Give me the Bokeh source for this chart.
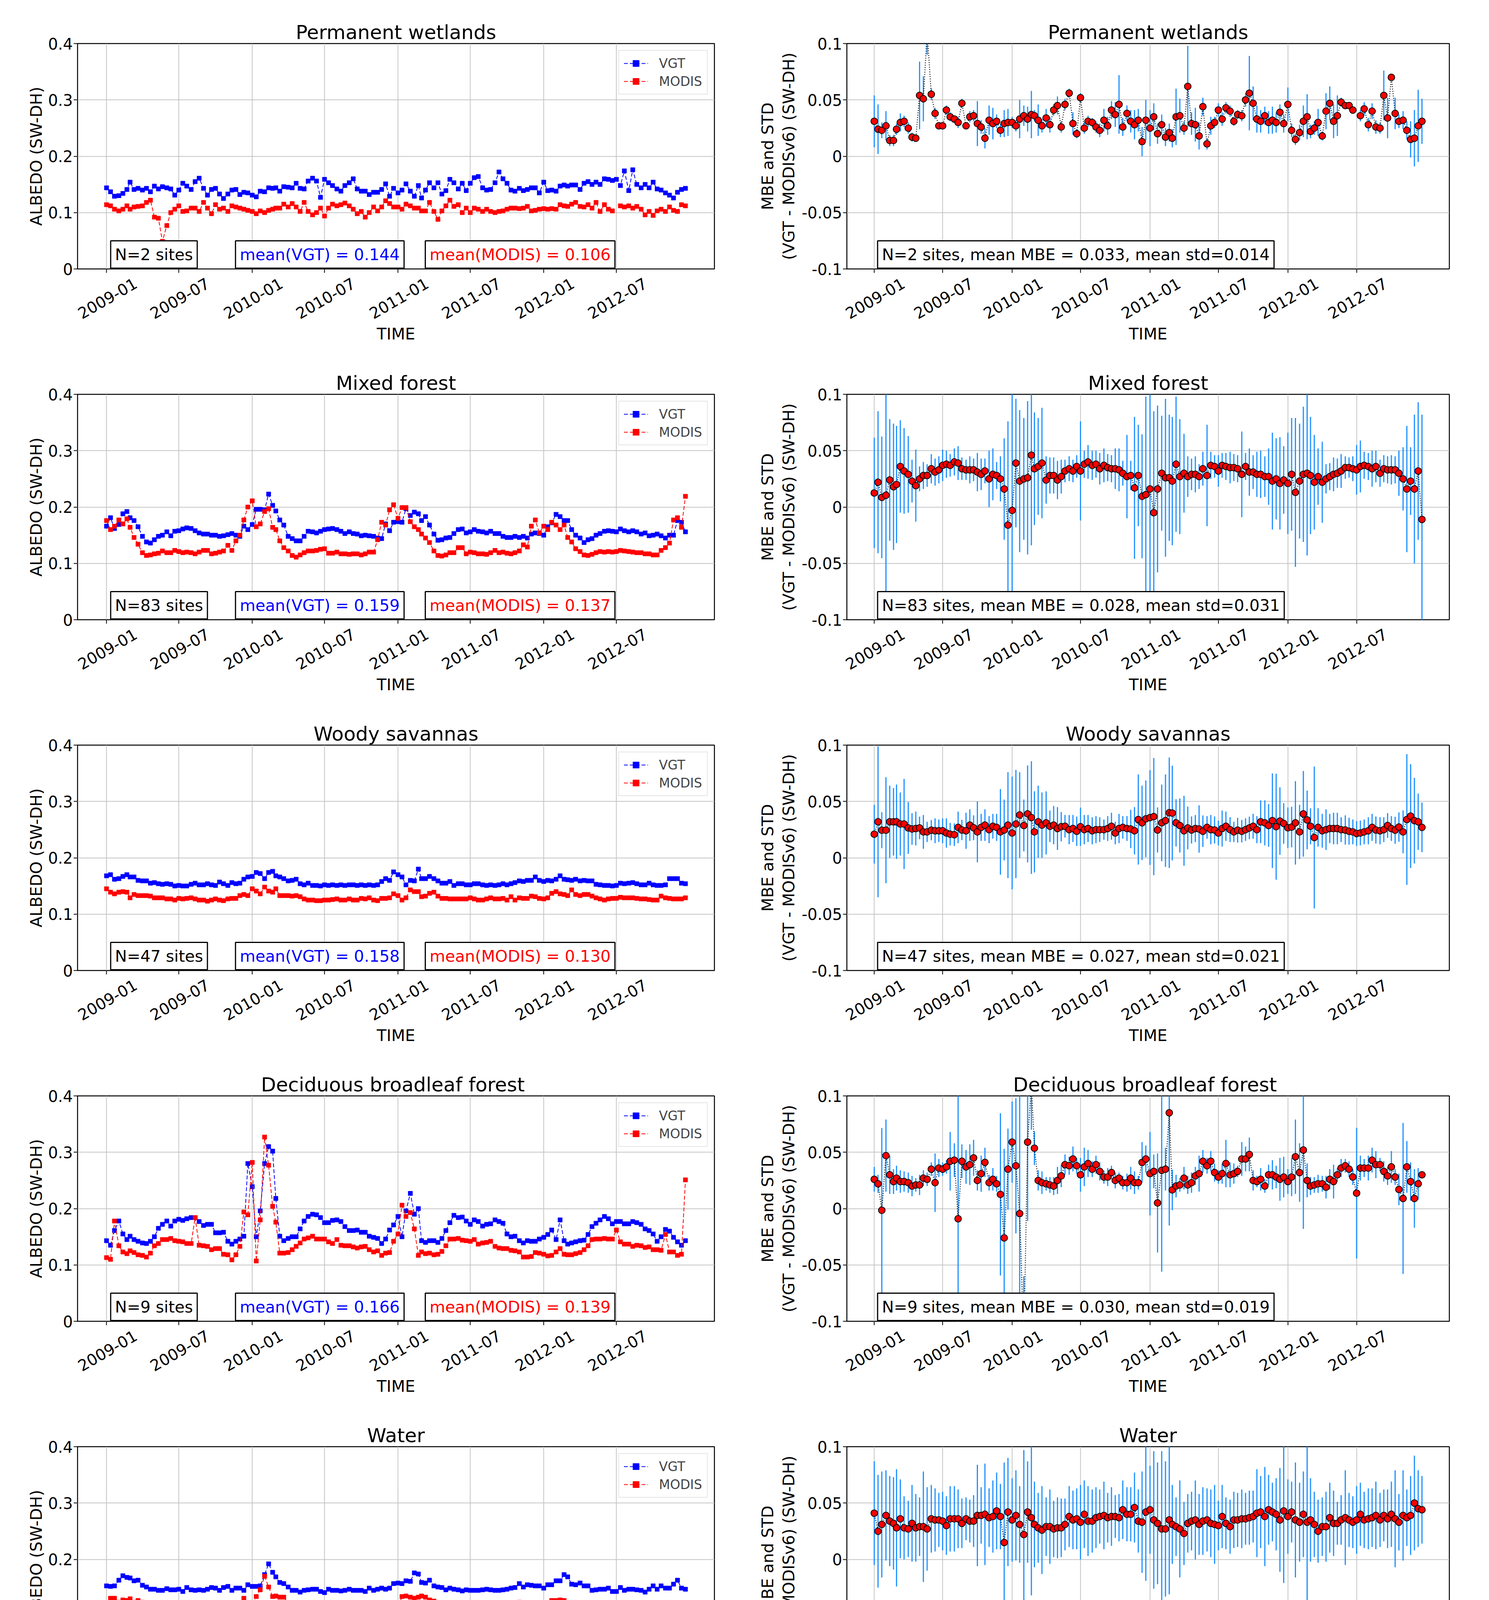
import math
import datetime as dt
import numpy as np
from bokeh.plotting import figure
from bokeh.layouts import gridplot
from bokeh.models import Range1d, FixedTicker, Label, Legend, LegendItem
from bokeh.embed import file_html
from bokeh.resources import INLINE

nan = float("nan")

# ---------------- data ----------------
titles = ["Permanent wetlands", "Mixed forest", "Woody savannas",
          "Deciduous  broadleaf forest", "Water", "Evergreen  broadleaf forest"]
n_sites = [2, 83, 47, 9, 176, 32]
mean_vgt = ["0.144", "0.159", "0.158", "0.166", "0.151", "0.159"]
mean_modis = ["0.106", "0.137", "0.130", "0.139", "0.112", "0.119"]
mean_mbe = ["0.033", "0.028", "0.027", "0.030", "0.035", "0.035"]
mean_std = ["0.014", "0.031", "0.021", "0.019", "0.033", "0.019"]
tick_labels = ["2009-01", "2009-07", "2010-01", "2010-07",
               "2011-01", "2011-07", "2012-01", "2012-07"]
left_yticks = [0, 0.1, 0.2, 0.3, 0.4]
left_ylabels = ["0", "0.1", "0.2", "0.3", "0.4"]
right_yticks = [-0.1, -0.05, 0, 0.05, 0.1]
right_ylabels = ["-0.1", "-0.05", "0", "0.05", "0.1"]

wet_vgt = [0.144,0.137,0.129,0.130,0.134,0.141,0.154,0.141,0.143,0.140,
0.143,0.137,0.147,0.142,0.146,0.144,0.142,0.131,0.140,0.152,
0.147,0.141,0.155,0.161,0.143,0.131,0.141,0.143,0.133,0.125,
0.133,0.140,0.141,0.132,0.136,0.135,0.131,0.128,0.138,0.137,
0.144,0.143,0.144,0.138,0.146,0.145,0.144,0.152,0.143,0.142,
0.156,0.161,0.156,0.127,0.159,0.153,0.148,0.142,0.138,0.148,
0.153,0.160,0.142,0.138,0.138,0.132,0.136,0.136,0.141,0.151,
0.129,0.143,0.135,0.140,0.151,0.138,0.129,0.148,0.126,0.140,
0.153,0.144,0.153,0.133,0.139,0.159,0.153,0.142,0.152,0.139,
0.152,0.162,0.164,0.144,0.140,0.141,0.153,0.172,0.160,0.152,
0.140,0.138,0.143,0.139,0.141,0.144,0.144,0.135,0.154,0.139,
0.140,0.138,0.147,0.149,0.147,0.149,0.149,0.141,0.152,0.155,
0.150,0.154,0.150,0.160,0.159,0.157,0.159,0.148,0.174,0.139,
0.176,0.150,0.144,0.150,0.144,0.154,0.142,0.140,0.135,0.131,
0.126,0.136,0.141,0.143]
wet_modis = [0.114,0.112,0.106,0.103,0.106,0.112,0.106,0.110,0.111,0.112,
0.118,0.122,0.092,0.090,0.049,0.077,0.100,0.106,0.112,0.102,
0.103,0.108,0.108,0.102,0.118,0.108,0.098,0.114,0.106,0.108,
0.102,0.112,0.110,0.108,0.106,0.104,0.102,0.098,0.103,0.100,
0.104,0.106,0.108,0.108,0.115,0.110,0.116,0.110,0.102,0.118,
0.102,0.096,0.100,0.108,0.094,0.108,0.115,0.112,0.114,0.117,
0.112,0.106,0.098,0.102,0.092,0.100,0.110,0.103,0.110,0.121,
0.116,0.110,0.110,0.106,0.115,0.112,0.108,0.108,0.103,0.103,
0.118,0.102,0.088,0.103,0.112,0.122,0.111,0.114,0.100,0.108,
0.100,0.108,0.106,0.102,0.106,0.102,0.100,0.102,0.103,0.106,
0.108,0.108,0.107,0.108,0.111,0.103,0.104,0.106,0.107,0.106,
0.107,0.106,0.114,0.112,0.111,0.115,0.118,0.111,0.110,0.114,
0.108,0.118,0.102,0.114,0.106,0.103,nan,0.112,0.110,0.112,
0.108,0.111,0.106,0.096,0.102,0.095,0.103,0.106,0.102,0.110,
0.104,0.102,0.114,0.112]
wet_mbe = [0.031,0.024,0.023,0.027,0.014,0.014,0.024,0.030,0.031,0.025,
0.017,0.016,0.054,0.051,0.110,0.055,0.038,0.027,0.027,0.041,
0.035,0.033,0.030,0.047,0.027,0.035,0.036,0.029,0.026,0.016,
0.032,0.029,0.031,0.023,0.029,0.030,0.030,0.027,0.033,0.036,
0.033,0.037,0.036,0.032,0.027,0.034,0.028,0.041,0.045,0.026,
0.046,0.056,0.029,0.020,0.052,0.025,0.031,0.030,0.026,0.023,
0.032,0.027,0.041,0.037,0.046,0.026,0.038,0.031,0.028,0.032,
0.013,0.032,0.025,0.035,0.020,0.028,0.017,0.021,0.016,0.035,
0.036,0.025,0.062,0.029,0.028,0.018,0.044,0.011,0.027,0.030,
0.041,0.033,0.043,0.040,0.031,0.037,0.036,0.050,0.056,0.047,
0.033,0.031,0.036,0.030,0.032,0.030,0.039,0.029,0.046,0.023,
0.015,0.021,0.031,0.035,0.022,0.025,0.030,0.018,0.040,0.047,
0.031,0.036,0.048,0.045,0.045,0.041,nan,0.036,0.042,0.028,
0.040,0.026,0.025,0.054,0.034,0.070,0.038,0.031,0.032,0.023,
0.015,0.016,0.027,0.031]
wet_std = [0.023,0.022,0.007,0.013,0.005,0.005,0.005,0.008,0.005,0.005,
0.004,0.003,0.030,0.020,0.020,0.005,0.005,0.003,0.003,0.004,
0.004,0.003,0.005,0.004,0.003,0.005,0.005,0.020,0.006,0.009,
0.013,0.014,0.006,0.006,0.012,0.012,0.005,0.005,0.017,0.009,
0.011,0.021,0.005,0.014,0.006,0.008,0.007,0.005,0.008,0.005,
0.005,0.004,0.010,0.004,0.004,0.005,0.005,0.004,0.005,0.006,
0.010,0.008,0.008,0.011,0.026,0.008,0.007,0.010,0.013,0.010,
0.013,0.018,0.016,0.012,0.009,0.009,0.008,0.008,0.008,0.025,
0.015,0.006,0.036,0.010,0.015,0.012,0.008,0.005,0.008,0.005,
0.006,0.006,0.005,0.005,0.004,0.004,0.005,0.006,0.033,0.015,
0.012,0.010,0.008,0.010,0.012,0.009,0.007,0.008,0.015,0.006,
0.005,0.007,0.014,0.020,0.006,0.006,0.012,0.004,0.016,0.015,
0.015,0.018,0.004,0.003,0.003,0.003,nan,0.005,0.006,0.006,
0.007,0.006,0.005,0.022,0.018,0.003,0.014,0.006,0.008,0.008,
0.016,0.025,0.032,0.020]

mix_vgt = [0.166,0.181,0.162,0.169,0.188,0.192,0.181,0.176,0.165,0.148,
0.138,0.136,0.142,0.148,0.150,0.156,0.149,0.157,0.158,0.161,
0.163,0.162,0.158,0.154,0.152,0.152,0.150,0.150,0.148,0.149,
0.151,0.153,0.150,0.148,0.166,0.160,0.169,0.196,0.196,0.195,
0.223,0.203,0.193,0.177,0.168,0.148,0.144,0.140,0.140,0.148,
0.157,0.156,0.154,0.157,0.160,0.161,0.162,0.160,0.157,0.153,
0.156,0.153,0.152,0.149,0.150,0.149,0.148,0.145,0.144,0.170,
0.158,0.173,0.174,0.173,0.197,0.185,0.191,0.188,0.176,0.183,
0.168,0.152,0.141,0.142,0.145,0.146,0.153,0.160,0.161,0.154,
0.156,0.160,0.157,0.156,0.154,0.157,0.153,0.153,0.148,0.146,
0.146,0.148,0.146,0.148,0.145,0.152,0.154,0.153,0.150,0.165,
0.172,0.187,0.183,0.176,0.176,0.160,0.150,0.145,0.137,0.142,
0.144,0.150,0.153,0.157,0.158,0.157,0.156,0.161,0.158,0.156,
0.158,0.156,0.152,0.154,0.149,0.150,0.152,0.149,0.145,0.150,
0.150,0.176,0.173,0.156]
mix_modis = [0.176,0.160,0.166,0.177,0.170,0.179,0.164,0.146,0.134,0.119,
0.114,0.115,0.117,0.118,0.122,0.119,0.119,0.123,0.121,0.119,
0.120,0.119,0.117,0.120,0.123,0.123,0.117,0.118,0.120,0.122,
0.132,0.123,0.140,0.150,0.177,0.200,0.211,0.165,0.170,0.192,
0.197,0.164,0.160,0.140,0.128,0.122,0.114,0.111,0.115,0.119,
0.122,0.122,0.123,0.125,0.126,0.118,0.118,0.120,0.117,0.117,
0.116,0.117,0.117,0.115,0.117,0.120,0.120,0.142,0.173,0.168,
0.195,0.204,0.180,0.199,0.199,0.174,0.165,0.160,0.152,0.145,
0.137,0.122,0.114,0.113,0.115,0.119,0.119,0.128,0.128,0.117,
0.120,0.119,0.117,0.117,0.116,0.119,0.123,0.119,0.120,0.118,
0.117,0.119,0.122,0.133,0.129,0.166,0.177,0.154,0.166,0.160,
0.173,0.168,0.160,0.168,0.146,0.138,0.126,0.121,0.115,0.114,
0.116,0.119,0.121,0.120,0.121,0.120,0.121,0.123,0.122,0.121,
0.120,0.119,0.119,0.117,0.117,0.115,0.115,0.123,0.128,0.136,
0.177,0.181,0.164,0.219]
mix_mbe = [0.0125,0.022,0.0086,0.0105,0.024,0.018,0.020,0.036,0.032,0.029,
0.023,0.019,0.025,0.028,0.028,0.034,0.031,0.033,0.037,0.038,
0.037,0.040,0.039,0.034,0.033,0.033,0.033,0.031,0.029,0.032,
0.025,0.029,0.028,0.025,0.016,-0.016,-0.003,0.039,0.023,0.025,
0.026,0.046,0.034,0.036,0.039,0.024,0.028,0.028,0.024,0.027,
0.032,0.034,0.032,0.036,0.032,0.038,0.040,0.037,0.038,0.034,
0.037,0.035,0.034,0.034,0.033,0.030,0.027,0.028,0.017,0.028,
0.0095,0.011,0.016,-0.005,0.016,0.030,0.026,0.026,0.023,0.038,
0.027,0.030,0.027,0.029,0.029,0.027,0.034,0.028,0.037,0.036,
0.032,0.037,0.036,0.035,0.035,0.034,0.029,0.036,0.031,0.031,
0.029,0.029,0.027,0.027,0.023,0.025,0.021,0.024,0.021,0.029,
0.013,0.023,0.029,0.030,0.028,0.022,0.027,0.022,0.025,0.027,
0.029,0.030,0.032,0.035,0.035,0.034,0.033,0.036,0.037,0.036,
0.034,0.036,0.030,0.034,0.033,0.033,0.033,0.030,0.025,0.016,
0.023,0.016,0.032,-0.011]
mix_std = [0.049,0.063,0.054,0.094,0.054,0.056,0.052,0.041,0.038,0.034,
0.019,0.032,0.011,0.012,0.010,0.013,0.012,0.012,0.014,0.012,
0.010,0.012,0.015,0.010,0.009,0.012,0.010,0.017,0.014,0.011,
0.025,0.023,0.012,0.020,0.045,0.092,0.120,0.057,0.063,0.054,
0.068,0.080,0.050,0.043,0.049,0.021,0.016,0.016,0.017,0.015,
0.010,0.011,0.010,0.010,0.044,0.012,0.015,0.013,0.012,0.014,
0.015,0.012,0.012,0.018,0.019,0.011,0.037,0.013,0.063,0.045,
0.055,0.087,0.100,0.090,0.074,0.051,0.070,0.056,0.057,0.060,
0.051,0.035,0.018,0.014,0.016,0.011,0.015,0.045,0.012,0.010,
0.014,0.011,0.012,0.014,0.012,0.012,0.038,0.012,0.021,0.015,
0.020,0.021,0.018,0.025,0.043,0.036,0.041,0.030,0.045,0.050,
0.066,0.051,0.060,0.073,0.052,0.042,0.025,0.036,0.013,0.012,
0.015,0.013,0.015,0.010,0.009,0.011,0.022,0.023,0.012,0.012,
0.016,0.014,0.012,0.012,0.012,0.013,0.012,0.020,0.028,0.056,
0.030,0.066,0.061,0.093]

sav_vgt = [0.168,0.170,0.162,0.163,0.167,0.170,0.166,0.166,0.160,0.159,
0.159,0.155,0.156,0.154,0.153,0.154,0.153,0.150,0.151,0.150,
0.150,0.153,0.155,0.152,0.152,0.154,0.152,0.151,0.157,0.154,
0.151,0.156,0.154,0.155,0.162,0.166,0.167,0.174,0.172,0.163,
0.174,0.176,0.168,0.166,0.163,0.159,0.160,0.162,0.154,0.152,
0.155,0.151,0.151,0.150,0.152,0.151,0.152,0.151,0.152,0.151,
0.152,0.152,0.151,0.152,0.151,0.152,0.151,0.152,0.158,0.163,
0.160,0.175,0.170,0.166,0.152,0.160,0.159,0.180,0.163,0.163,
0.167,0.163,0.159,0.155,0.155,0.158,0.151,0.154,0.154,0.152,
0.152,0.154,0.154,0.152,0.151,0.152,0.151,0.152,0.154,0.152,
0.154,0.156,0.159,0.158,0.160,0.160,0.166,0.160,0.158,0.160,
0.159,0.162,0.168,0.162,0.161,0.160,0.162,0.159,0.160,0.159,
0.159,0.153,0.152,0.151,0.151,0.150,0.151,0.155,0.154,0.155,
0.156,0.154,0.152,0.152,0.155,0.152,0.151,0.151,0.152,0.163,
0.163,0.163,0.155,0.154]
sav_modis = [0.145,0.139,0.136,0.139,0.140,0.139,0.129,0.135,0.133,0.133,
0.133,0.132,0.129,0.129,0.129,0.127,0.127,0.125,0.128,0.127,
0.128,0.129,0.127,0.125,0.125,0.123,0.125,0.127,0.125,0.124,
0.127,0.128,0.128,0.133,0.135,0.133,0.145,0.141,0.136,0.148,
0.141,0.139,0.145,0.133,0.133,0.133,0.132,0.133,0.131,0.127,
0.125,0.125,0.124,0.124,0.125,0.125,0.126,0.127,0.125,0.125,
0.127,0.125,0.125,0.128,0.127,0.129,0.125,0.124,0.128,0.128,
0.129,0.136,0.133,0.125,0.129,0.143,0.140,0.140,0.131,0.132,
0.137,0.139,0.132,0.128,0.128,0.127,0.127,0.127,0.127,0.127,
0.129,0.127,0.125,0.125,0.127,0.129,0.127,0.127,0.128,0.125,
0.131,0.125,0.129,0.128,0.128,0.132,0.131,0.128,0.127,0.129,
0.137,0.140,0.136,0.135,0.133,0.143,0.135,0.133,0.135,0.135,
0.132,0.129,0.127,0.125,0.127,0.128,0.128,0.130,0.129,0.129,
0.129,0.128,0.127,0.127,0.126,0.125,0.125,0.132,0.129,0.128,
0.127,0.127,0.127,0.129]
sav_mbe = [0.021,0.032,0.0245,0.0245,0.032,0.032,0.032,0.030,0.030,0.0265,
0.0256,0.026,0.0265,0.023,0.023,0.0245,0.024,0.024,0.024,0.022,
0.021,0.0205,0.027,0.0247,0.024,0.029,0.0267,0.023,0.027,0.029,
0.025,0.028,0.027,0.023,0.0247,0.029,0.022,0.030,0.038,0.0287,
0.039,0.0357,0.023,0.032,0.029,0.031,0.028,0.029,0.026,0.0276,
0.028,0.025,0.026,0.0236,0.0276,0.025,0.026,0.024,0.025,0.025,
0.025,0.026,0.028,0.022,0.026,0.027,0.026,0.0256,0.024,0.034,
0.031,0.0346,0.0357,0.0366,0.0247,0.031,0.033,0.040,0.0397,0.031,
0.0287,0.024,0.0265,0.0247,0.026,0.0256,0.0236,0.027,0.025,0.0247,
0.022,0.026,0.028,0.025,0.023,0.0245,0.0236,0.025,0.0265,0.028,
0.025,0.032,0.031,0.0287,0.033,0.0276,0.0326,0.0305,0.0267,0.0273,
0.031,0.023,0.039,0.0336,0.028,0.018,0.027,0.024,0.025,0.026,
0.026,0.026,0.025,0.0247,0.0236,0.023,0.0216,0.022,0.023,0.024,
0.027,0.0247,0.024,0.025,0.0287,0.026,0.0245,0.0273,0.023,0.034,
0.037,0.033,0.032,0.027]
sav_std = [0.026,0.067,0.016,0.047,0.032,0.030,0.033,0.028,0.040,0.023,
0.014,0.015,0.010,0.015,0.009,0.009,0.011,0.010,0.011,0.013,
0.010,0.010,0.014,0.009,0.016,0.014,0.011,0.027,0.012,0.014,
0.012,0.011,0.012,0.038,0.027,0.047,0.050,0.048,0.038,0.023,
0.043,0.050,0.036,0.032,0.029,0.028,0.014,0.017,0.019,0.013,
0.010,0.013,0.012,0.013,0.017,0.013,0.012,0.012,0.012,0.011,
0.009,0.011,0.012,0.010,0.013,0.010,0.011,0.017,0.021,0.040,
0.033,0.034,0.042,0.052,0.020,0.034,0.041,0.049,0.042,0.021,
0.024,0.031,0.019,0.012,0.012,0.021,0.014,0.010,0.013,0.012,
0.011,0.016,0.013,0.011,0.009,0.011,0.010,0.010,0.010,0.011,
0.012,0.019,0.020,0.019,0.042,0.047,0.030,0.018,0.018,0.018,
0.037,0.024,0.038,0.026,0.016,0.063,0.017,0.015,0.018,0.013,
0.014,0.014,0.011,0.013,0.012,0.011,0.011,0.011,0.011,0.012,
0.012,0.012,0.012,0.011,0.011,0.011,0.012,0.013,0.019,0.058,
0.046,0.038,0.025,0.022]

dec_vgt = [0.143,0.135,0.161,0.178,0.155,0.145,0.151,0.145,0.142,0.139,
0.138,0.142,0.150,0.165,0.172,0.178,0.169,0.178,0.181,0.179,
0.182,0.184,0.184,0.177,0.170,0.172,0.172,0.157,0.157,0.158,
0.142,0.137,0.142,0.146,0.151,0.280,0.239,0.150,0.196,0.280,
0.310,0.302,0.218,0.151,0.143,0.147,0.150,0.150,0.164,0.178,
0.186,0.190,0.189,0.184,0.175,0.175,0.179,0.180,0.177,0.168,
0.161,0.161,0.162,0.158,0.158,0.151,0.149,0.147,0.138,0.146,
0.162,0.171,0.186,0.150,0.196,0.227,0.190,0.200,0.143,0.140,
0.143,0.143,0.140,0.147,0.161,0.175,0.188,0.184,0.185,0.178,
0.172,0.180,0.177,0.169,0.172,0.173,0.180,0.177,0.174,0.155,
0.150,0.151,0.143,0.139,0.143,0.142,0.142,0.146,0.149,0.154,
0.162,0.145,0.180,0.143,0.137,0.139,0.141,0.143,0.144,0.154,
0.168,0.174,0.180,0.186,0.182,0.173,0.177,0.177,0.173,0.173,
0.177,0.175,0.172,0.164,0.161,0.155,0.142,0.150,0.163,0.160,
0.149,0.141,0.135,0.143]
dec_modis = [0.113,0.110,0.178,0.134,0.123,0.120,0.125,0.122,0.118,0.117,
0.114,0.121,0.134,0.138,0.145,0.145,0.147,0.143,0.142,0.141,
0.138,0.138,0.184,0.135,0.134,0.133,0.127,0.129,0.129,0.119,
0.118,0.109,0.118,0.133,0.194,0.189,0.282,0.107,0.180,0.327,
0.277,0.204,0.176,0.121,0.121,0.122,0.127,0.133,0.139,0.146,
0.148,0.151,0.146,0.146,0.146,0.141,0.138,0.145,0.135,0.134,
0.134,0.132,0.130,0.132,0.133,0.127,0.123,0.125,0.117,0.121,
0.122,0.142,0.155,0.206,0.186,0.193,0.164,0.117,0.123,0.120,
0.121,0.118,0.119,0.124,0.134,0.146,0.146,0.147,0.144,0.143,
0.142,0.145,0.137,0.139,0.140,0.142,0.133,0.130,0.129,0.129,
0.126,0.125,0.123,0.114,0.114,0.115,0.122,0.121,0.119,0.116,
0.117,0.123,0.129,0.119,0.118,0.118,0.120,0.122,0.127,0.134,
0.145,0.146,0.146,0.147,0.146,0.146,0.162,0.141,0.137,0.137,
0.133,0.135,0.134,0.131,0.132,0.127,0.127,0.126,0.154,0.123,
0.123,0.117,0.119,0.251]
dec_mbe = [0.026,0.022,-0.0015,0.047,0.030,0.024,0.027,0.024,0.024,0.023,
0.020,0.021,0.021,0.027,0.026,0.035,0.023,0.036,0.035,0.037,
0.042,0.043,-0.009,0.042,0.037,0.039,0.045,0.025,0.031,0.041,
0.023,0.026,0.022,0.0126,-0.026,0.035,0.059,0.038,-0.0044,-0.120,
0.059,0.110,0.0536,0.025,0.023,0.022,0.021,0.020,0.025,0.029,
0.039,0.038,0.044,0.038,0.030,0.037,0.040,0.035,0.039,0.033,
0.028,0.028,0.032,0.025,0.027,0.023,0.023,0.027,0.023,0.023,
0.041,0.044,0.031,0.033,0.005,0.034,0.035,0.085,0.0166,0.020,
0.021,0.027,0.021,0.023,0.029,0.031,0.042,0.038,0.042,0.032,
0.028,0.031,0.040,0.030,0.031,0.033,0.044,0.044,0.048,0.025,
0.024,0.026,0.020,0.030,0.030,0.028,0.026,0.028,0.024,0.028,
0.046,0.032,0.052,0.025,0.020,0.021,0.022,0.022,0.019,0.026,
0.024,0.030,0.036,0.038,0.035,0.028,0.0137,0.036,0.036,0.036,
0.043,0.039,0.039,0.033,0.029,0.037,0.028,0.017,0.009,0.037,
0.024,0.009,0.022,0.030]
dec_std = [0.011,0.008,0.073,0.032,0.017,0.011,0.011,0.010,0.009,0.009,
0.009,0.006,0.009,0.007,0.006,0.006,0.026,0.008,0.006,0.006,
0.026,0.015,0.120,0.015,0.015,0.018,0.016,0.009,0.016,0.013,
0.007,0.010,0.007,0.072,0.079,0.036,0.036,0.060,0.120,0.060,
0.070,0.040,0.015,0.009,0.010,0.006,0.007,0.008,0.012,0.010,
0.009,0.008,0.011,0.007,0.015,0.017,0.012,0.007,0.008,0.008,
0.006,0.008,0.006,0.007,0.005,0.006,0.008,0.010,0.010,0.006,
0.018,0.012,0.037,0.015,0.044,0.090,0.019,0.100,0.018,0.010,
0.006,0.010,0.008,0.009,0.008,0.016,0.010,0.007,0.009,0.008,
0.006,0.009,0.021,0.011,0.009,0.005,0.015,0.011,0.015,0.009,
0.005,0.010,0.006,0.009,0.013,0.010,0.019,0.018,0.011,0.017,
0.033,0.026,0.070,0.015,0.008,0.007,0.008,0.007,0.010,0.009,
0.015,0.006,0.008,0.006,0.007,0.007,0.058,0.011,0.008,0.011,
0.011,0.012,0.006,0.009,0.008,0.014,0.007,0.014,0.067,0.023,
0.017,0.026,0.014,0.002]

wat_vgt = [0.153,0.152,0.153,0.163,0.171,0.168,0.167,0.162,0.163,0.154,
0.151,0.147,0.147,0.145,0.145,0.148,0.146,0.146,0.147,0.143,
0.150,0.146,0.145,0.146,0.145,0.147,0.150,0.149,0.145,0.150,
0.152,0.145,0.149,0.149,0.145,0.155,0.152,0.152,0.153,0.173,
0.192,0.177,0.169,0.159,0.157,0.151,0.145,0.145,0.142,0.145,
0.146,0.147,0.147,0.143,0.141,0.147,0.145,0.145,0.144,0.145,
0.147,0.145,0.145,0.145,0.143,0.149,0.145,0.147,0.149,0.147,
0.149,0.157,0.158,0.157,0.162,0.161,0.176,0.174,0.159,0.158,
0.163,0.153,0.151,0.150,0.146,0.149,0.147,0.146,0.144,0.146,
0.145,0.145,0.145,0.146,0.147,0.146,0.145,0.145,0.146,0.147,
0.149,0.150,0.157,0.151,0.155,0.154,0.153,0.153,0.149,0.155,
0.155,0.162,0.162,0.173,0.169,0.156,0.155,0.158,0.153,0.153,
0.145,0.146,0.147,0.147,0.149,0.143,0.143,0.150,0.145,0.147,
0.147,0.146,0.145,0.142,0.147,0.153,0.147,0.153,0.149,0.149,
0.156,0.163,0.149,0.147]
wat_modis = [0.111,0.131,0.131,0.124,0.128,0.127,0.130,0.124,0.127,0.124,
0.122,0.122,0.123,0.112,0.104,0.103,0.100,0.100,0.107,0.106,
0.110,0.107,0.104,0.108,0.099,0.099,0.104,0.099,0.102,0.106,
0.107,0.112,0.112,0.112,0.131,0.112,0.114,0.134,0.146,0.170,
0.151,0.134,0.135,0.133,0.133,0.122,0.119,0.111,0.112,0.110,
0.104,0.098,0.098,0.096,0.100,0.103,0.104,0.102,0.102,0.099,
0.098,0.097,0.098,0.098,0.098,0.094,0.098,0.111,0.100,0.106,
0.122,0.114,0.114,0.134,0.135,0.133,0.131,0.133,0.135,0.133,
0.128,0.126,0.123,0.114,0.110,0.112,0.107,0.099,0.100,0.103,
0.103,0.099,0.104,0.103,0.104,0.106,0.106,0.107,0.099,0.098,
0.102,0.110,0.124,0.104,0.102,0.106,0.115,0.114,0.111,0.112,
0.127,0.127,0.128,0.127,0.123,0.122,0.119,0.120,0.118,0.111,
0.106,0.106,0.104,0.102,0.103,0.103,0.104,0.099,0.100,0.103,
0.102,0.102,0.102,0.102,0.100,0.095,0.102,0.112,0.107,0.104,
0.111,0.107,0.111,0.108]
wat_mbe = [0.041,0.025,0.031,0.039,0.034,0.032,0.028,0.036,0.028,0.027,
0.032,0.028,0.029,0.029,0.027,0.036,0.035,0.035,0.034,0.030,
0.036,0.036,0.036,0.032,0.036,0.034,0.034,0.039,0.039,0.040,
0.037,0.038,0.043,0.038,0.015,0.042,0.035,0.039,0.031,0.022,
0.042,0.037,0.031,0.028,0.026,0.029,0.029,0.027,0.028,0.028,
0.031,0.038,0.035,0.036,0.033,0.040,0.034,0.034,0.037,0.038,
0.039,0.037,0.038,0.038,0.037,0.044,0.040,0.040,0.046,0.034,
0.033,0.042,0.044,0.035,0.032,0.027,0.027,0.035,0.031,0.029,
0.027,0.023,0.032,0.034,0.035,0.031,0.034,0.035,0.032,0.031,
0.030,0.038,0.032,0.029,0.035,0.035,0.036,0.036,0.037,0.038,
0.041,0.042,0.038,0.044,0.042,0.040,0.035,0.043,0.038,0.042,
0.035,0.033,0.040,0.033,0.035,0.031,0.025,0.029,0.029,0.037,
0.032,0.032,0.035,0.037,0.035,0.033,0.035,0.040,0.035,0.036,
0.037,0.039,0.035,0.039,0.036,0.040,0.036,0.033,0.039,0.037,
0.039,0.050,0.045,0.044]
wat_std = [0.046,0.050,0.047,0.040,0.040,0.041,0.052,0.035,0.028,0.025,
0.034,0.030,0.026,0.049,0.037,0.030,0.028,0.024,0.026,0.026,
0.029,0.029,0.026,0.022,0.019,0.019,0.023,0.045,0.025,0.045,
0.026,0.032,0.034,0.029,0.071,0.048,0.037,0.040,0.034,0.075,
0.045,0.069,0.038,0.031,0.039,0.026,0.033,0.025,0.027,0.026,
0.023,0.027,0.026,0.027,0.033,0.030,0.031,0.028,0.027,0.024,
0.030,0.022,0.026,0.019,0.021,0.026,0.024,0.024,0.031,0.028,
0.045,0.061,0.039,0.061,0.054,0.069,0.060,0.066,0.035,0.026,
0.043,0.028,0.026,0.026,0.035,0.027,0.030,0.028,0.030,0.035,
0.022,0.028,0.023,0.024,0.025,0.024,0.026,0.023,0.024,0.023,
0.039,0.032,0.044,0.031,0.026,0.032,0.046,0.064,0.033,0.027,
0.051,0.035,0.038,0.071,0.037,0.029,0.028,0.026,0.031,0.031,
0.029,0.019,0.022,0.042,0.024,0.023,0.030,0.028,0.025,0.027,
0.026,0.030,0.024,0.023,0.026,0.029,0.043,0.025,0.040,0.025,
0.035,0.042,0.034,0.030]

ebf_vgt = [0.161,0.161,0.161,0.163,0.158,0.161,0.163,0.161,0.162,0.165,
0.159,0.159,0.161,0.165,0.165,0.165,0.157,0.155,0.158,0.154,
0.150,0.148,0.153,0.152,0.153,0.157,0.157,0.157,0.158,0.159,
0.163,0.161,0.165,0.161,0.170,0.165,0.165,0.159,0.161,0.161,
0.165,0.159,0.165,0.161,0.161,0.159,0.157,0.157,0.159,0.157,
0.159,0.155,0.153,0.152,0.150,0.154,0.154,0.146,0.155,0.157,
0.157,0.157,0.155,0.157,0.157,0.161,0.159,0.165,0.165,0.167,
0.161,0.166,0.172,0.165,0.161,0.167,0.159,0.159,0.161,0.165,
0.163,0.159,0.159,0.161,0.162,0.157,0.155,0.157,0.154,0.155,
0.153,0.151,0.152,0.150,0.152,0.155,0.157,0.159,0.163,0.165,
0.165,0.166,0.169,0.167,0.170,0.163,0.166,0.166,0.167,0.159,
0.165,0.170,0.163,0.165,0.165,0.159,0.162,0.158,0.162,0.157,
0.161,0.161,0.159,0.155,0.153,0.150,0.152,0.149,0.153,0.155,
0.157,0.158,0.161,0.157,0.155,0.161,0.158,0.161,0.163,0.166,
0.170,0.169,0.166,0.167]
ebf_modis = [0.117,0.116,0.119,0.117,0.120,0.122,0.117,0.119,0.113,0.116,
0.115,0.120,0.122,0.108,0.113,0.123,0.117,0.109,0.120,0.120,
0.122,0.120,0.122,0.123,0.122,0.120,0.121,0.117,0.123,0.125,
0.128,0.124,0.121,0.116,0.120,0.117,0.113,0.117,0.116,0.121,
0.115,0.115,0.111,0.119,0.117,0.123,0.117,0.120,0.117,0.117,
0.116,0.117,0.120,0.121,0.120,0.119,0.117,0.120,0.120,0.117,
0.119,0.117,0.119,0.117,0.121,0.122,0.125,0.128,0.130,0.121,
0.124,0.127,0.131,0.121,0.119,0.113,0.120,0.122,0.120,0.120,
0.119,0.120,0.116,0.117,0.122,0.117,0.113,0.115,0.119,0.117,
0.122,0.123,0.122,0.123,0.121,0.120,0.117,0.119,0.120,0.122,
0.124,0.123,0.125,0.124,0.127,0.120,0.125,0.121,0.116,0.113,
0.119,0.116,0.117,0.124,0.142,0.120,0.115,0.120,0.120,0.117,
0.115,0.117,0.119,0.120,0.117,0.116,0.119,0.120,0.117,0.120,
0.119,0.119,0.122,0.122,0.126,0.123,0.124,0.122,0.116,0.117,
0.120,0.119,0.117,0.116]
ebf_mbe = [0.036,0.036,0.029,0.034,0.034,0.029,0.035,0.035,0.046,0.043,
0.033,0.035,0.037,0.051,0.051,0.036,0.033,0.044,0.040,0.030,
0.027,0.023,0.029,0.027,0.027,0.031,0.032,0.040,0.036,0.033,
0.031,0.033,0.037,0.033,0.040,0.038,0.035,0.031,0.035,0.028,
0.035,0.033,0.049,0.036,0.037,0.025,0.036,0.033,0.034,0.035,
0.041,0.040,0.033,0.034,0.028,0.031,0.035,0.029,0.036,0.038,
0.031,0.036,0.039,0.034,0.030,0.029,0.026,0.029,0.031,0.046,
0.033,0.029,0.035,0.038,0.042,0.037,0.026,0.029,0.032,0.041,
0.041,0.035,0.042,0.038,0.036,0.028,0.037,0.040,0.035,0.035,
0.036,0.029,0.031,0.023,0.023,0.029,0.033,0.038,0.038,0.039,
0.037,0.041,0.042,0.042,0.038,0.033,0.035,0.034,0.034,0.033,
0.038,0.041,0.030,0.025,0.031,0.026,0.036,0.039,0.036,0.035,
0.038,0.045,0.039,0.037,0.035,0.032,0.029,0.036,0.027,0.023,
0.029,0.035,0.034,0.036,0.037,0.033,0.032,0.027,0.037,0.040,
0.042,0.042,0.038,0.042]
ebf_std = [0.021,0.020,0.017,0.021,0.017,0.014,0.028,0.015,0.026,0.022,
0.016,0.017,0.015,0.033,0.036,0.018,0.015,0.025,0.014,0.014,
0.015,0.015,0.018,0.018,0.017,0.015,0.018,0.022,0.012,0.019,
0.021,0.017,0.021,0.021,0.012,0.019,0.022,0.016,0.022,0.019,
0.029,0.018,0.027,0.017,0.015,0.020,0.030,0.015,0.021,0.024,
0.018,0.019,0.025,0.014,0.020,0.021,0.017,0.017,0.018,0.017,
0.022,0.018,0.021,0.018,0.020,0.020,0.024,0.019,0.018,0.033,
0.021,0.017,0.026,0.024,0.022,0.018,0.019,0.020,0.026,0.028,
0.024,0.023,0.023,0.020,0.020,0.019,0.018,0.023,0.020,0.018,
0.021,0.019,0.019,0.018,0.017,0.019,0.017,0.017,0.019,0.017,
0.023,0.027,0.017,0.017,0.021,0.019,0.026,0.018,0.018,0.018,
0.024,0.025,0.021,0.021,0.022,0.020,0.026,0.020,0.020,0.021,
0.019,0.022,0.018,0.019,0.018,0.020,0.022,0.021,0.023,0.023,
0.016,0.018,0.018,0.014,0.014,0.021,0.023,0.026,0.020,0.019,
0.021,0.019,0.026,0.026]

vgt_series = [wet_vgt, mix_vgt, sav_vgt, dec_vgt, wat_vgt, ebf_vgt]
modis_series = [wet_modis, mix_modis, sav_modis, dec_modis, wat_modis, ebf_modis]
mbe_series = [wet_mbe, mix_mbe, sav_mbe, dec_mbe, wat_mbe, ebf_mbe]
std_series = [wet_std, mix_std, sav_std, dec_std, wat_std, ebf_std]

# ---------------- helpers ----------------
FONT = "DejaVu Sans"
EPOCH = dt.datetime(1970, 1, 1)


def ms(d):
    return (d - EPOCH).total_seconds() * 1000.0


def dekad_dates(n):
    return np.array([ms(dt.datetime(2009 + i // 36, (i % 36) // 3 + 1, (1, 11, 21)[i % 3]))
                     for i in range(n)])


tick_ms = [int(ms(dt.datetime(int(t[:4]), int(t[5:]), 1))) for t in tick_labels]
all_dates = dekad_dates(144)
span = all_dates[-1] - all_dates[0]
X0 = all_dates[0] - 0.05 * span
X1 = all_dates[-1] + 0.05 * span

H = 898
TOP = 111
FRAME_H = 577
BOTTOM = H - TOP - FRAME_H
WL, WR = 1900, 1892
FWL, FWR = 1640, 1552
PAD = 11
TICK_FS = "40px"


def base_fig(width, left, right, frame_w, y0, y1, title, yticks, ylabels, ylabel, ystandoff):
    p = figure(width=width, height=H, x_range=Range1d(X0, X1), y_range=Range1d(y0, y1),
               x_axis_type="datetime", output_backend="svg", toolbar_location=None, tools="",
               min_border_left=left, min_border_right=right,
               min_border_top=TOP, min_border_bottom=BOTTOM)
    p.background_fill_color = "white"
    p.border_fill_color = "white"
    p.outline_line_color = "black"
    p.outline_line_width = 2.5
    p.grid.grid_line_color = "#c4c4c4"
    p.grid.grid_line_width = 2
    # date labels: Bokeh right-aligns rotated labels at their tick, so the label
    # ticks are moved right to centre each label under its real tick (minor ticks)
    d = int(round(75.0 * (X1 - X0) / frame_w))
    shifted = [t + d for t in tick_ms]
    p.xaxis.ticker = FixedTicker(ticks=shifted, minor_ticks=tick_ms)
    p.xaxis.major_label_overrides = {s: lab for s, lab in zip(shifted, tick_labels)}
    p.xgrid.ticker = FixedTicker(ticks=tick_ms)
    p.yaxis.ticker = FixedTicker(ticks=yticks)
    p.ygrid.ticker = FixedTicker(ticks=yticks)
    p.yaxis.major_label_overrides = dict(zip(yticks, ylabels))
    for ax in p.axis:
        ax.axis_line_color = None
        ax.major_tick_line_color = "black"
        ax.major_tick_line_width = 2
        ax.major_tick_out = 10
        ax.major_tick_in = 0
        ax.minor_tick_line_color = None
        ax.major_label_text_font = FONT
        ax.major_label_text_font_size = TICK_FS
        ax.major_label_text_color = "black"
        ax.axis_label_text_font = FONT
        ax.axis_label_text_font_size = "41px"
        ax.axis_label_text_font_style = "normal"
        ax.axis_label_text_color = "black"
    p.xaxis.major_tick_line_color = None
    p.xaxis.minor_tick_line_color = "black"
    p.xaxis.minor_tick_line_width = 2
    p.xaxis.minor_tick_out = 10
    p.xaxis.minor_tick_in = 0
    p.xaxis.major_label_orientation = math.pi / 6
    p.xaxis.major_label_standoff = 23
    p.xaxis.axis_label = "TIME"
    p.xaxis.axis_label_standoff = -3
    p.yaxis.major_label_standoff = 2
    p.yaxis.axis_label = ylabel
    p.yaxis.axis_label_standoff = ystandoff
    p.yaxis.axis_label_text_line_height = 1.12
    p.title.text = title
    p.title.align = "center"
    p.title.text_font = FONT
    p.title.text_font_size = "50px"
    p.title.text_font_style = "normal"
    p.title.text_color = "black"
    p.title.standoff = 0
    return p


def add_box(p, frac, ybase, text, color):
    p.add_layout(Label(x=X0 + frac * (X1 - X0), y=ybase, text=text, text_color=color,
                       text_font=FONT, text_font_size="41px",
                       text_align="left", text_baseline="bottom",
                       x_offset=0, y_offset=2, padding=PAD,
                       border_line_color="black", border_line_width=3,
                       background_fill_color="white", background_fill_alpha=1.0))


rows = []
for k in range(6):
    shift = 10 if k == 5 else 0
    # ----- left panel -----
    pl = base_fig(WL, 188 + shift, 72 - shift, FWL, 0, 0.4, titles[k],
                  left_yticks, left_ylabels, "ALBEDO (SW-DH)", 3)
    v = np.array(vgt_series[k], dtype=float)
    m = np.array(modis_series[k], dtype=float)
    xv = dekad_dates(len(v))
    xm = dekad_dates(len(m))
    lv = pl.line(xv, v, color="blue", line_width=2, line_dash="10 5")
    sv = pl.scatter(xv, v, marker="square", size=11, color="blue")
    lm = pl.line(xm, m, color="red", line_width=2, line_dash="10 5")
    sm = pl.scatter(xm, m, marker="square", size=11, color="red")
    leg = Legend(items=[LegendItem(label="VGT", renderers=[lv, sv]),
                        LegendItem(label="MODIS", renderers=[lm, sm])],
                 location="top_right", margin=17, padding=12, spacing=6,
                 glyph_width=62, glyph_height=40, label_height=40, label_standoff=28,
                 label_text_font=FONT, label_text_font_size="33px",
                 border_line_color="#cccccc", border_line_width=2,
                 background_fill_alpha=0.8)
    pl.add_layout(leg)
    add_box(pl, 0.052, 0.0, "N=%d sites" % n_sites[k], "black")
    add_box(pl, 0.248, 0.0, "mean(VGT) = " + mean_vgt[k], "blue")
    add_box(pl, 0.546, 0.0, "mean(MODIS) = " + mean_modis[k], "red")

    # ----- right panel -----
    pr = base_fig(WR, 257 + shift, 83 - shift, FWR, -0.1, 0.1, titles[k],
                  right_yticks, right_ylabels,
                  "MBE and STD\n(VGT - MODISv6) (SW-DH)", 6)
    b = np.array(mbe_series[k], dtype=float)
    s = np.array(std_series[k], dtype=float)
    xb = dekad_dates(len(b))
    pr.segment(xb, b - s, xb, b + s, color="#1e90ff", line_width=3)
    pr.line(xb, b, color="black", line_width=2.5, line_dash="2 4")
    pr.scatter(xb, b, marker="circle", size=17, fill_color="red",
               line_color="black", line_width=2)
    add_box(pr, 0.051, -0.1, "N=%d sites, mean MBE = %s, mean std=%s"
            % (n_sites[k], mean_mbe[k], mean_std[k]), "black")
    rows.append([pl, pr])

grid = gridplot(rows, toolbar_location=None)
open("out.html", "w").write(file_html(grid, INLINE))
